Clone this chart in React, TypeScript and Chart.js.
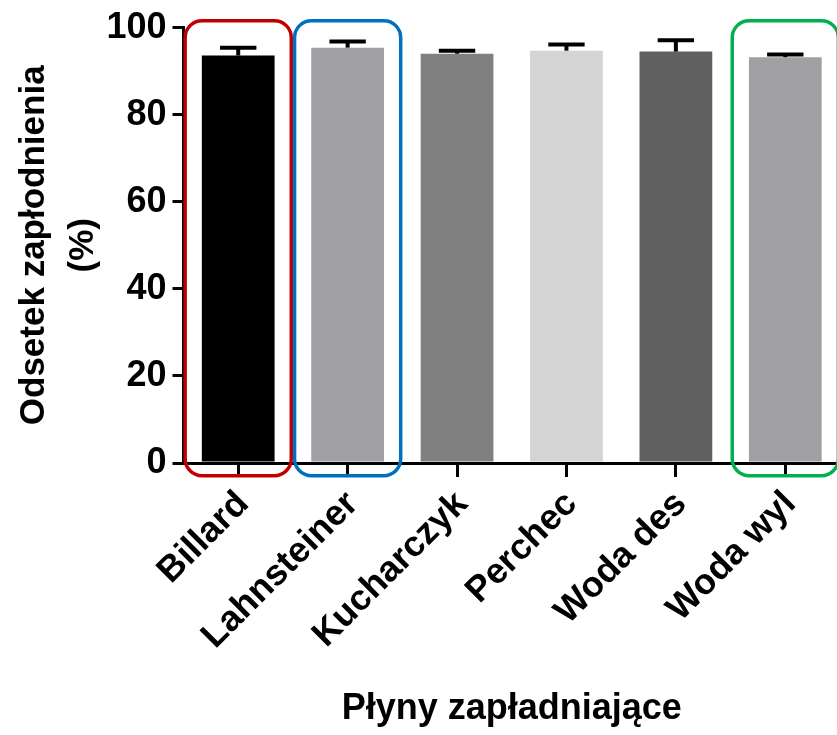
import React, { useEffect, useRef } from 'react';
import { Chart, registerables } from 'chart.js';

Chart.register(...registerables);

const categories = ['Billard', 'Lahnsteiner', 'Kucharczyk', 'Perchec', 'Woda des', 'Woda wyl'];
const meanValues = [93.6, 95.4, 94.0, 94.7, 94.5, 93.2];
const errorValues = [1.8, 1.4, 0.7, 1.4, 2.6, 0.6];
const yTickValues = [0, 20, 40, 60, 80, 100];
const barColors = ['#000000', '#a0a0a4', '#808080', '#d4d4d4', '#606060', '#a0a0a4'];
const highlightIndices = [0, 1, 5];
const highlightColors = ['#c00000', '#0070c0', '#00b050'];

const FONT = "'Liberation Sans', Arial, sans-serif";
const FONT_SIZE = 36;

const errorBarPlugin = {
  id: 'errorBars',
  afterDatasetsDraw(chart: any) {
    const meta = chart.getDatasetMeta(0);
    const y = chart.scales.y;
    const ctx = chart.ctx;
    ctx.save();
    ctx.strokeStyle = '#000';
    ctx.lineCap = 'butt';
    meta.data.forEach((bar: any, i: number) => {
      const top = y.getPixelForValue(meanValues[i] + errorValues[i]);
      const base = y.getPixelForValue(meanValues[i]);
      const half = bar.width / 4;
      ctx.lineWidth = 4;
      ctx.beginPath();
      ctx.moveTo(bar.x, base);
      ctx.lineTo(bar.x, top);
      ctx.stroke();
      ctx.beginPath();
      ctx.moveTo(bar.x - half, top);
      ctx.lineTo(bar.x + half, top);
      ctx.stroke();
    });
    ctx.restore();
  },
};

const highlightPlugin = {
  id: 'highlights',
  afterDraw(chart: any) {
    const x = chart.scales.x;
    const y = chart.scales.y;
    const ctx = chart.ctx;
    const cat = x.width / categories.length;
    ctx.save();
    ctx.lineWidth = 3.5;
    highlightIndices.forEach((idx, k) => {
      const cx = x.getPixelForValue(idx);
      const left = cx - cat * 0.485;
      const right = cx + cat * 0.485;
      const top = y.getPixelForValue(101.6);
      const bottom = y.getPixelForValue(-2.9);
      ctx.strokeStyle = highlightColors[k];
      ctx.beginPath();
      ctx.roundRect(left, top, right - left, bottom - top, 17);
      ctx.stroke();
    });
    ctx.restore();
  },
};

export default function App() {
  const ref = useRef<HTMLCanvasElement>(null);
  useEffect(() => {
    if (!ref.current) return;
    const chart = new Chart(ref.current, {
      type: 'bar',
      data: {
        labels: categories,
        datasets: [
          {
            data: meanValues,
            backgroundColor: barColors,
            borderWidth: 0,
            categoryPercentage: 1,
            barPercentage: 0.665,
          },
        ],
      },
      options: {
        responsive: false,
        animation: false,
        layout: { padding: { top: 27, left: 0, right: 5, bottom: 2 } },
        plugins: { legend: { display: false }, tooltip: { enabled: false } },
        scales: {
          x: {
            afterFit(scale: any) {
              scale.height = 270;
            },
            grid: {
              display: true,
              drawOnChartArea: false,
              drawTicks: true,
              tickLength: 14,
              lineWidth: 3,
              color: '#000',
              offset: false,
            },
            border: { display: true, color: '#000', width: 3 },
            ticks: {
              minRotation: 45,
              maxRotation: 45,
              padding: 6,
              labelOffset: 5,
              color: '#000',
              font: { family: FONT, size: FONT_SIZE, weight: 'bold' },
            },
            title: {
              display: true,
              text: 'Płyny zapładniające',
              color: '#000',
              font: { family: FONT, size: FONT_SIZE, weight: 'bold', lineHeight: 1.2 },
              padding: { top: 30, bottom: 2 },
            },
          },
          y: {
            min: 0,
            max: 100,
            afterBuildTicks(scale: any) {
              scale.ticks = yTickValues.map((v) => ({ value: v }));
            },
            afterFit(scale: any) {
              scale.width = 183.5;
            },
            grid: {
              display: true,
              drawOnChartArea: false,
              drawTicks: true,
              tickLength: 11,
              lineWidth: 3,
              color: '#000',
            },
            border: { display: true, color: '#000', width: 3 },
            ticks: {
              padding: 6,
              color: '#000',
              font: { family: FONT, size: FONT_SIZE, weight: 'bold' },
            },
            title: {
              display: true,
              text: ['Odsetek zapłodnienia', '(%)'],
              color: '#000',
              font: { family: FONT, size: 35, weight: 'bold', lineHeight: 1.4 },
              padding: { top: 9.5, bottom: 0 },
            },
          },
        },
      },
      plugins: [errorBarPlugin, highlightPlugin],
    });
    return () => chart.destroy();
  }, []);

  return (
    <div style={{ position: 'fixed', left: 0, top: 0, width: 837, height: 735, overflow: 'hidden', background: '#fff' }}>
      <canvas ref={ref} width={845} height={735} style={{ display: 'block' }} />
    </div>
  );
}
